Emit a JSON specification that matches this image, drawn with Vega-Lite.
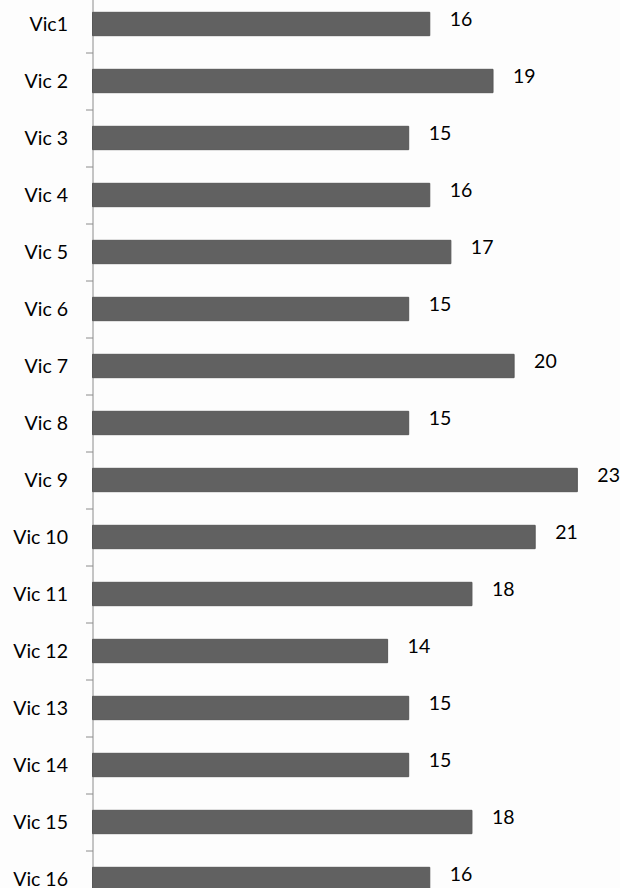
{
  "$schema": "https://vega.github.io/schema/vega-lite/v6.json",
  "autosize": "none",
  "width": 527,
  "height": 912,
  "padding": {"left": 92.5, "top": -4.5, "right": 0, "bottom": 0},
  "background": "#fdfdfd",
  "config": {"view": {"stroke": null}},
  "data": {
    "values": [
      {"name": "Vic1", "value": 16},
      {"name": "Vic 2", "value": 19},
      {"name": "Vic 3", "value": 15},
      {"name": "Vic 4", "value": 16},
      {"name": "Vic 5", "value": 17},
      {"name": "Vic 6", "value": 15},
      {"name": "Vic 7", "value": 20},
      {"name": "Vic 8", "value": 15},
      {"name": "Vic 9", "value": 23},
      {"name": "Vic 10", "value": 21},
      {"name": "Vic 11", "value": 18},
      {"name": "Vic 12", "value": 14},
      {"name": "Vic 13", "value": 15},
      {"name": "Vic 14", "value": 15},
      {"name": "Vic 15", "value": 18},
      {"name": "Vic 16", "value": 16}
    ]
  },
  "encoding": {
    "y": {
      "field": "name",
      "type": "nominal",
      "sort": null,
      "scale": {"paddingInner": 0.59, "paddingOuter": 0.295},
      "axis": {
        "title": null,
        "tickOffset": 28.5,
        "labelOffset": -28.5,
        "domainColor": "#8c8c8c",
        "tickColor": "#8c8c8c",
        "tickSize": 7,
        "labelPadding": 18,
        "labelFont": "Lato",
        "labelFontSize": 19.5,
        "labelColor": "#000000",
        "grid": false
      }
    },
    "x": {
      "field": "value",
      "type": "quantitative",
      "scale": {"domain": [0, 25]},
      "axis": null
    }
  },
  "layer": [
    {
      "mark": {"type": "bar", "color": "#616161", "stroke": "#575757", "strokeWidth": 1}
    },
    {
      "mark": {
        "type": "text",
        "align": "left",
        "baseline": "middle",
        "dx": 20,
        "dy": -4,
        "font": "Lato",
        "fontSize": 19.5,
        "color": "#000000"
      },
      "encoding": {"text": {"field": "value", "type": "quantitative"}}
    }
  ]
}
